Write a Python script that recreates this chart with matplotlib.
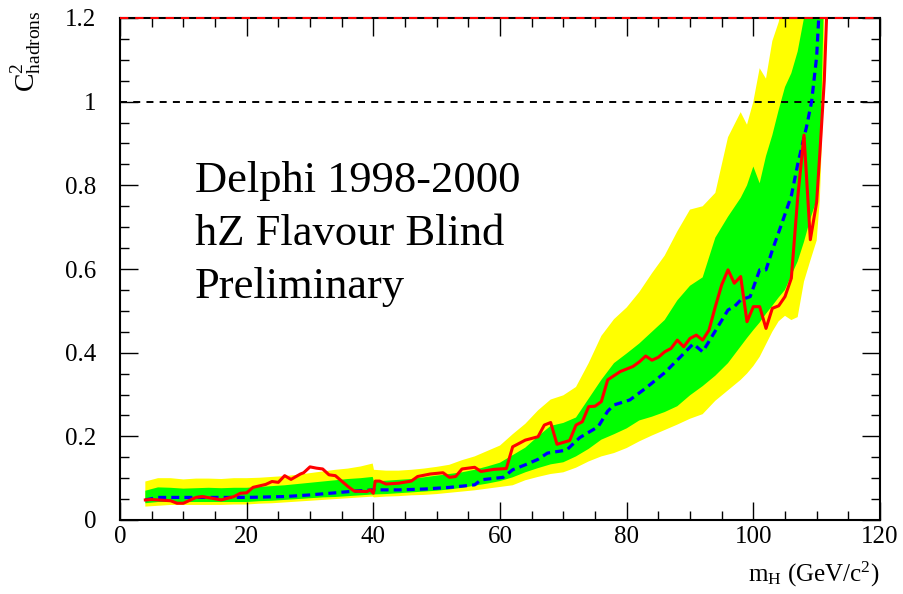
import matplotlib
matplotlib.use('Agg')
import matplotlib.pyplot as plt
from matplotlib.ticker import MultipleLocator, FixedLocator, FixedFormatter

# ---------------- data ----------------
band_m = [4, 6, 8, 10, 12, 14, 16, 18, 20, 22, 24, 26, 28, 30, 32, 34, 36, 38, 39.9, 40.1,
          42, 44, 46, 48, 50, 52, 54, 56, 58, 60, 62, 64, 66, 68, 70, 72, 74, 76, 78, 80,
          82, 84, 86, 88, 90, 92, 94, 96, 98, 99, 100, 101, 102, 103, 104, 105, 106, 107,
          108, 109, 110, 110.5, 111, 111.5, 112]

y2_hi = [0.092, 0.100, 0.100, 0.097, 0.099, 0.099, 0.098, 0.100, 0.100, 0.101, 0.103, 0.105,
         0.108, 0.112, 0.116, 0.120, 0.123, 0.128, 0.135, 0.120,
         0.118, 0.118, 0.120, 0.123, 0.127, 0.132, 0.143, 0.152, 0.165, 0.178, 0.205, 0.230,
         0.262, 0.288, 0.298, 0.318, 0.375, 0.440, 0.480, 0.508,
         0.545, 0.590, 0.632, 0.690, 0.742, 0.750, 0.782, 0.915, 0.975, 0.945, 1.000, 1.080,
         1.055, 1.145, 1.190, 1.26, 1.35, 1.45,
         1.5, 1.5, 1.5, 1.5, 1.5, 1.5, 1.5]

y2_lo = [0.032, 0.034, 0.036, 0.036, 0.036, 0.036, 0.036, 0.037, 0.037, 0.039, 0.040, 0.042,
         0.044, 0.046, 0.048, 0.050, 0.052, 0.054, 0.056, 0.054,
         0.056, 0.057, 0.059, 0.060, 0.062, 0.065, 0.068, 0.071, 0.075, 0.079, 0.083, 0.095,
         0.103, 0.110, 0.114, 0.125, 0.140, 0.152, 0.160, 0.172,
         0.188, 0.202, 0.215, 0.228, 0.242, 0.253, 0.285, 0.310, 0.335, 0.350, 0.368, 0.390,
         0.420, 0.450, 0.475, 0.488, 0.478, 0.485,
         0.570, 0.620, 0.668, 0.765, 0.980, 1.5, 1.5]

y1_hi = [0.070, 0.078, 0.077, 0.075, 0.076, 0.077, 0.076, 0.077, 0.077, 0.079, 0.081, 0.083,
         0.086, 0.089, 0.092, 0.095, 0.098, 0.100, 0.103, 0.092,
         0.094, 0.096, 0.098, 0.102, 0.106, 0.110, 0.114, 0.120, 0.128, 0.137, 0.155, 0.173,
         0.200, 0.225, 0.232, 0.245, 0.290, 0.335, 0.375, 0.398,
         0.422, 0.450, 0.478, 0.525, 0.560, 0.580, 0.675, 0.725, 0.770, 0.800, 0.845, 0.805,
         0.870, 0.920, 0.980, 1.035, 1.068, 1.120,
         1.200, 1.5, 1.5, 1.5, 1.5, 1.5, 1.5]

y1_lo = [0.040, 0.043, 0.043, 0.043, 0.043, 0.043, 0.043, 0.043, 0.043, 0.045, 0.046, 0.048,
         0.050, 0.052, 0.054, 0.055, 0.057, 0.059, 0.061, 0.061,
         0.062, 0.064, 0.066, 0.068, 0.070, 0.073, 0.077, 0.082, 0.087, 0.093, 0.102, 0.114,
         0.124, 0.133, 0.138, 0.152, 0.170, 0.192, 0.205, 0.219,
         0.238, 0.247, 0.258, 0.272, 0.298, 0.320, 0.345, 0.375, 0.415, 0.435, 0.454, 0.472,
         0.493, 0.512, 0.532, 0.550, 0.585, 0.618,
         0.665, 0.720, 0.765, 0.845, 1.150, 1.5, 1.5]

exp_m = [4, 6, 10, 14, 20, 26, 30, 34, 37, 40, 44, 48, 52, 56, 57, 60.5, 62, 64, 66, 67.5,
         70.5, 72.6, 75.5, 77, 78, 80.5, 83, 86, 88.5, 90.5, 92, 94, 96, 97, 98, 99.5, 101,
         102, 103, 104.5, 106, 107, 108.4, 109.2, 110, 110.5]
exp_c2 = [0.048, 0.054, 0.054, 0.054, 0.054, 0.056, 0.060, 0.065, 0.069, 0.072, 0.072, 0.074,
          0.078, 0.084, 0.096, 0.102, 0.120, 0.132, 0.145, 0.160, 0.167, 0.197, 0.223, 0.260,
          0.275, 0.287, 0.315, 0.352, 0.390, 0.421, 0.402, 0.452, 0.502, 0.510, 0.526, 0.534,
          0.598, 0.598, 0.645, 0.709, 0.775, 0.850, 0.940, 1.000, 1.108, 1.25]

obs_m = [4, 5, 6, 8, 9, 10, 12, 13, 16, 18, 19, 20, 21, 23, 24, 25, 26, 27, 28.5, 29, 30,
         31, 32, 33, 34, 36, 37, 39, 39.5, 40, 40.3, 41, 42, 44, 46, 47, 49, 51, 52, 53, 54,
         56, 57, 59, 61, 62, 64, 66, 67, 68, 69, 71, 72, 73, 74, 75, 76, 77, 79, 81, 82, 83,
         84, 85, 86, 87, 88, 89, 90, 91, 92, 93, 94, 95, 96, 97, 98, 99, 100, 101, 102, 103,
         104, 105, 106, 107, 108, 109, 110, 110.6, 111.2, 111.8]
obs_c2 = [0.048, 0.049, 0.048, 0.046, 0.040, 0.040, 0.054, 0.056, 0.048, 0.056, 0.064, 0.065,
          0.078, 0.085, 0.092, 0.090, 0.106, 0.097, 0.110, 0.113, 0.127, 0.124, 0.122, 0.108,
          0.106, 0.080, 0.069, 0.068, 0.072, 0.064, 0.093, 0.093, 0.086, 0.088, 0.093, 0.104,
          0.110, 0.113, 0.102, 0.104, 0.122, 0.126, 0.116, 0.121, 0.123, 0.175, 0.191, 0.199,
          0.227, 0.233, 0.181, 0.190, 0.227, 0.235, 0.271, 0.272, 0.283, 0.335, 0.355, 0.367,
          0.378, 0.392, 0.382, 0.389, 0.402, 0.410, 0.430, 0.414, 0.434, 0.442, 0.430, 0.454,
          0.510, 0.562, 0.598, 0.566, 0.582, 0.474, 0.510, 0.510, 0.458, 0.506, 0.512, 0.534,
          0.578, 0.770, 0.920, 0.670, 0.760, 0.900, 1.050, 1.300]

x_ticks = [0, 20, 40, 60, 80, 100, 120]
x_tick_labels = ['0', '20', '40', '60', '80', '100', '120']
y_ticks = [0, 0.2, 0.4, 0.6, 0.8, 1.0, 1.2]
y_tick_labels = ['0', '0.2', '0.4', '0.6', '0.8', '1', '1.2']

info_lines = ['Delphi 1998-2000', 'hZ Flavour Blind', 'Preliminary']

# ---------------- style ----------------
plt.rcParams['font.family'] = ['Liberation Serif', 'DejaVu Serif']
plt.rcParams['mathtext.fontset'] = 'custom'
plt.rcParams['mathtext.rm'] = 'Liberation Serif'
plt.rcParams['mathtext.it'] = 'Liberation Serif:italic'

fig = plt.figure(figsize=(9.04, 5.94), dpi=100)
ax = fig.add_axes([120 / 904, 1 - 520 / 594, 760 / 904, 502 / 594])

ax.fill_between(band_m, y2_lo, y2_hi, color='#ffff00', lw=0, zorder=1)
ax.fill_between(band_m, y1_lo, y1_hi, color='#00ff00', lw=0, zorder=2)
ax.axhline(1.0, color='black', ls=(0, (3.6, 3.2)), lw=1.4, zorder=3)
ax.plot(exp_m, exp_c2, color='#0000ff', lw=2.3, ls=(0, (2.5, 1.6)), zorder=4)
ax.plot(obs_m, obs_c2, color='#ff0000', lw=2.2, zorder=5)
ax.axhline(1.2, color='#ff0000', ls=(0, (4, 3.3)), lw=1.5, zorder=6, clip_on=False)

ax.set_xlim(0, 120)
ax.set_ylim(0, 1.2)

ax.xaxis.set_major_locator(FixedLocator(x_ticks))
ax.xaxis.set_major_formatter(FixedFormatter(x_tick_labels))
ax.xaxis.set_minor_locator(MultipleLocator(5))
ax.yaxis.set_major_locator(FixedLocator(y_ticks))
ax.yaxis.set_major_formatter(FixedFormatter(y_tick_labels))
ax.yaxis.set_minor_locator(MultipleLocator(0.05))

ax.tick_params(which='both', direction='in', top=True, right=True, width=1.0, color='black')
ax.tick_params(which='major', length=13)
ax.tick_params(which='minor', length=6.5)
ax.tick_params(axis='x', which='major', pad=4.5, labelsize=18)
ax.tick_params(axis='y', which='major', pad=17, labelsize=18)
for s in ax.spines.values():
    s.set_linewidth(1.5)
    s.set_zorder(5.5)

for txt, yb in zip(info_lines, [0.784, 0.657, 0.531]):
    ax.text(11.85, yb, txt, fontsize=32, ha='left', va='baseline', zorder=7)

fig.text(880 / 904, 1 - 582 / 594, r'm$_{\mathrm{H}}$ (GeV/c$^{2}$)', ha='right',
         va='baseline', fontsize=18)
fig.text(27 / 904, 1 - 10 / 594, r'C$^{2}_{\mathrm{hadrons}}$', rotation=90,
         ha='center', va='top', fontsize=20)

fig.savefig('out.png', dpi=100)
